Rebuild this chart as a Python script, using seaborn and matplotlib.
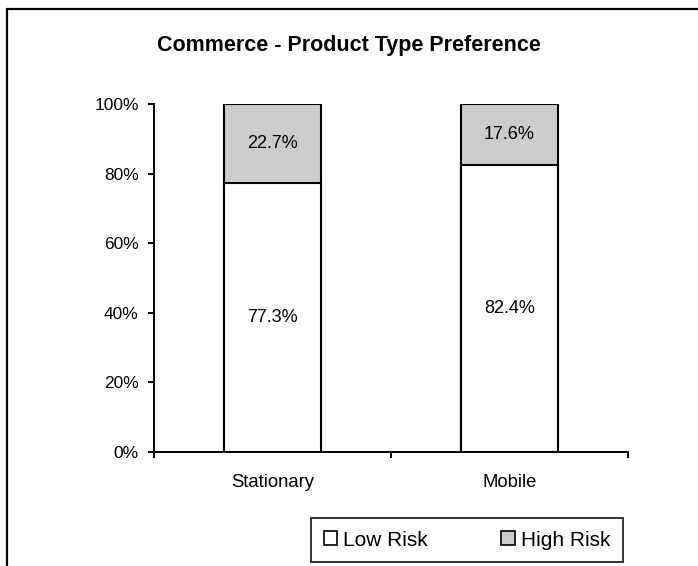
import seaborn as sns
import matplotlib.pyplot as plt
from matplotlib.patches import Patch
from matplotlib.lines import Line2D
from matplotlib.ticker import PercentFormatter

# data
categories = ['Stationary', 'Mobile']
low_risk = [77.3, 82.4]
high_risk = [22.7, 17.6]
series_names = ['Low Risk', 'High Risk']
y_ticks = [0, 20, 40, 60, 80, 100]

sns.set_style("white")
plt.rcParams['font.family'] = ['Liberation Sans', 'DejaVu Sans']
plt.rcParams['text.color'] = 'black'
plt.rcParams['xtick.color'] = 'black'
plt.rcParams['ytick.color'] = 'black'
plt.rcParams['axes.labelcolor'] = 'black'

fig = plt.figure(figsize=(6.98, 5.66), dpi=100)
ax = fig.add_axes([154 / 698, 1 - 451.7 / 566, 474 / 698, 347.7 / 566])

totals = [l + h for l, h in zip(low_risk, high_risk)]
gray = '#cccccc'

# gray full-height bars first, white low-risk bars on top
sns.barplot(x=categories, y=totals, color=gray, edgecolor='black', linewidth=1.5,
            width=0.41, saturation=1, ax=ax)
sns.barplot(x=categories, y=low_risk, color='white', edgecolor='black', linewidth=1.5,
            width=0.41, saturation=1, ax=ax)

for i, (l, h) in enumerate(zip(low_risk, high_risk)):
    ax.text(i, l / 2, f'{l:.1f}%', ha='center', va='center', fontsize=13)
    ax.text(i, l + h / 2, f'{h:.1f}%', ha='center', va='center', fontsize=13)

ax.set_xlim(-0.5, len(categories) - 0.5)
ax.set_ylim(0, 100)
ax.set_yticks(y_ticks)
ax.yaxis.set_major_formatter(PercentFormatter(decimals=0))
ax.tick_params(axis='y', direction='out', length=4, width=1.4, pad=7, labelsize=12.5, left=True)

ax.set_xticks([-0.5, 0.5, 1.5])
ax.set_xticklabels([])
ax.set_xticks([0, 1], minor=True)
ax.set_xticklabels(categories, minor=True)
ax.tick_params(axis='x', which='major', direction='out', length=4, width=1.4, bottom=True)
ax.tick_params(axis='x', which='minor', length=0, pad=16, labelsize=13.3)

for side in ['top', 'right']:
    ax.spines[side].set_visible(False)
for side in ['left', 'bottom']:
    ax.spines[side].set_color('black')
    ax.spines[side].set_linewidth(1.4)
ax.set_xlabel('')
ax.set_ylabel('')

fig.text(349 / 698, 1 - 45 / 566, 'Commerce - Product Type Preference',
         ha='center', va='center', fontsize=15.5, fontweight='bold')

handles = [Patch(facecolor='white', edgecolor='black', linewidth=1.2),
           Patch(facecolor=gray, edgecolor='black', linewidth=1.2)]
leg = fig.legend(handles, series_names, loc='center', bbox_to_anchor=(467 / 698, 1 - 540 / 566),
                 ncol=2, fontsize=15, frameon=True, fancybox=False, handlelength=0.65,
                 handleheight=0.65, handletextpad=0.3, columnspacing=3.5,
                 borderpad=0.6, borderaxespad=0)
leg.get_frame().set_edgecolor('black')
leg.get_frame().set_linewidth(1.4)

# outer chart border (only top and left visible in the crop)
fig.add_artist(Line2D([7 / 698, 1], [1 - 9 / 566, 1 - 9 / 566], color='black', linewidth=1.6,
                      transform=fig.transFigure))
fig.add_artist(Line2D([7 / 698, 7 / 698], [0, 1 - 9 / 566], color='black', linewidth=1.6,
                      transform=fig.transFigure))

fig.savefig('out.png', dpi=100)
